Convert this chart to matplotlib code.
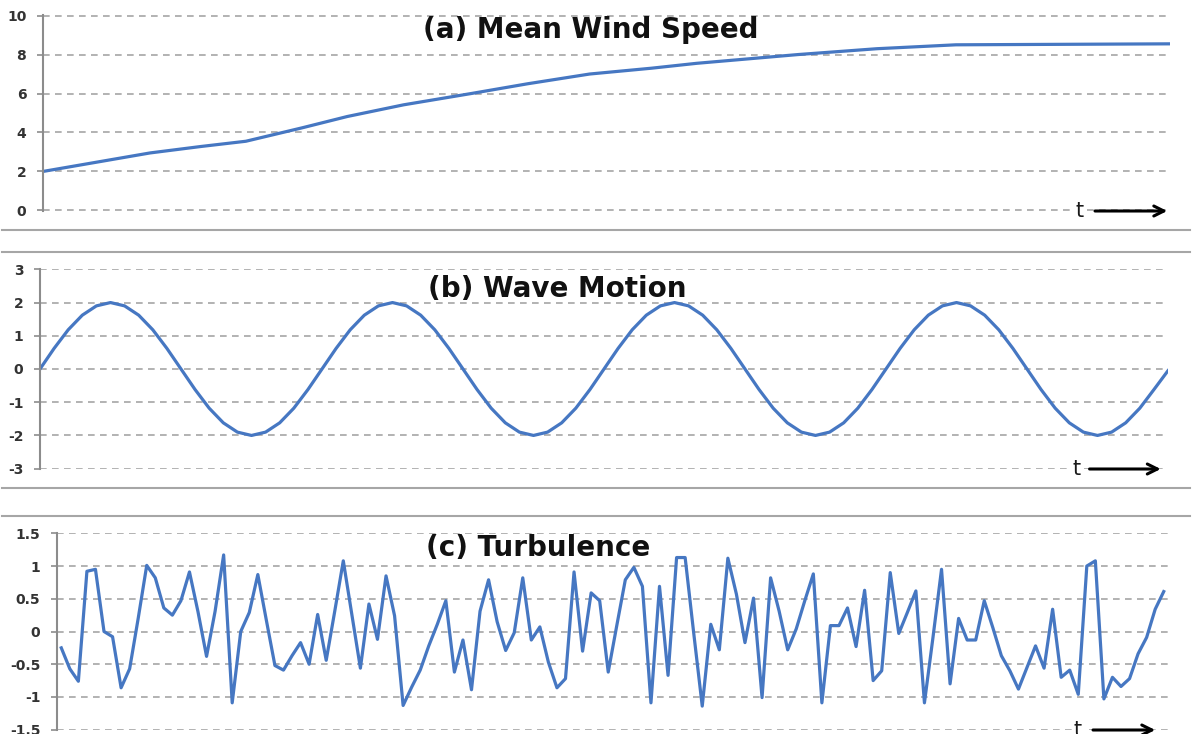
import matplotlib
matplotlib.use("Agg")
import matplotlib.pyplot as plt
from matplotlib.lines import Line2D

# (a) mean wind speed, t runs 0..100 across the panel
wind_t = [0, 5, 9.5, 14, 18, 23, 27, 32, 38, 43, 48.5, 54, 58, 67, 74, 81, 100]
wind_speed = [2.0, 2.5, 2.95, 3.28, 3.55, 4.24, 4.82, 5.42, 6.0, 6.5, 7.0, 7.3,
              7.55, 8.0, 8.3, 8.5, 8.55]

# (b) wave motion, 20 readings per cycle, 4 cycles
wave = [0, 0.62, 1.18, 1.62, 1.9, 2.0, 1.9, 1.62, 1.18, 0.62,
        0, -0.62, -1.18, -1.62, -1.9, -2.0, -1.9, -1.62, -1.18, -0.62,
        0, 0.62, 1.18, 1.62, 1.9, 2.0, 1.9, 1.62, 1.18, 0.62,
        0, -0.62, -1.18, -1.62, -1.9, -2.0, -1.9, -1.62, -1.18, -0.62,
        0, 0.62, 1.18, 1.62, 1.9, 2.0, 1.9, 1.62, 1.18, 0.62,
        0, -0.62, -1.18, -1.62, -1.9, -2.0, -1.9, -1.62, -1.18, -0.62,
        0, 0.62, 1.18, 1.62, 1.9, 2.0, 1.9, 1.62, 1.18, 0.62,
        0, -0.62, -1.18, -1.62, -1.9, -2.0, -1.9, -1.62, -1.18, -0.62,
        -0.05]

# (c) turbulence
turbulence = [-0.25, -0.57, -0.76, 0.92, 0.95, 0.0, -0.08, -0.86, -0.57, 0.2,
              1.01, 0.82, 0.36, 0.25, 0.47, 0.91, 0.3, -0.38, 0.31, 1.17,
              -1.09, 0.0, 0.29, 0.87, 0.17, -0.52,
              -0.59, -0.37, -0.17, -0.5, 0.26, -0.44, 0.31, 1.08, 0.26, -0.56,
              0.42, -0.12, 0.85, 0.24, -1.13, -0.85, -0.59, -0.22, 0.11, 0.47,
              -0.62, -0.13, -0.89, 0.31, 0.79, 0.15,
              -0.29, -0.02, 0.82, -0.13, 0.07, -0.47, -0.86, -0.72, 0.91, -0.3,
              0.59, 0.47, -0.62, 0.09, 0.79, 0.98, 0.69, -1.09, 0.69, -0.67,
              1.13, 1.13, -0.02, -1.14, 0.11, -0.28, 1.12,
              0.57, -0.17, 0.51, -1.01, 0.82, 0.31, -0.28, 0.04, 0.47, 0.88,
              -1.09, 0.09, 0.09, 0.36, -0.23, 0.63, -0.75, -0.6, 0.9, -0.03,
              0.29, 0.62, -1.09, -0.09, 0.95, -0.8,
              0.2, -0.13, -0.13, 0.47, 0.06, -0.37, -0.6, -0.88, -0.55, -0.22,
              -0.56, 0.34, -0.7, -0.59, -0.96, 1.0, 1.08, -1.03, -0.7, -0.84,
              -0.72, -0.34, -0.09, 0.34, 0.61]

titles = ["(a) Mean Wind Speed", "(b) Wave Motion", "(c) Turbulence"]
ticks_a = [0, 2, 4, 6, 8, 10]
ticks_b = [-3, -2, -1, 0, 1, 2, 3]
ticks_c = [-1.5, -1, -0.5, 0, 0.5, 1, 1.5]
labels_c = ["-1.5", "-1", "-0.5", "0", "0.5", "1", "1.5"]

W, H = 1192, 734
LINE = "#4677c2"
GRID = "#a6a6a6"

plt.rcParams["axes.unicode_minus"] = False
fig = plt.figure(figsize=(W / 100, H / 100), dpi=100)


def add_panel(left, top, right, bottom):
    # pixel box -> figure fraction
    return fig.add_axes([left / W, 1 - bottom / H, (right - left) / W, (bottom - top) / H])


def style_axis(ax, ticks, labels):
    for side in ["top", "right", "bottom"]:
        ax.spines[side].set_visible(False)
    ax.spines["left"].set_color("#8c8c8c")
    ax.spines["left"].set_linewidth(1.5)
    ax.set_yticks(ticks)
    ax.set_yticklabels(labels, fontsize=10, fontweight="bold", color="#333333")
    ax.tick_params(axis="y", length=4, width=1.2, color="#8c8c8c", pad=8)
    ax.set_xticks([])
    ax.grid(axis="y", color=GRID, linestyle=(0, (4, 3.2)), linewidth=1.2)
    ax.set_axisbelow(True)
    ax.patch.set_alpha(0)


def time_arrow(ax, t_x, start, end):
    ax.text(t_x, 0, "t", transform=ax.transAxes, fontsize=15, ha="center", va="center",
            color="#1a1a1a", bbox=dict(facecolor="white", edgecolor="none", pad=1),
            clip_on=False)
    ax.annotate("", xy=(end, 0), xytext=(start, 0), xycoords="axes fraction",
                annotation_clip=False,
                arrowprops=dict(arrowstyle="->", lw=2.2, color="black", mutation_scale=18))


# panel a
ax_a = add_panel(43, 15, 1170, 211)
ax_a.plot(wind_t, wind_speed, color=LINE, lw=2.3)
ax_a.set_xlim(0, 100)
ax_a.set_ylim(-0.03, 10.03)
style_axis(ax_a, ticks_a, [str(v) for v in ticks_a])
time_arrow(ax_a, 0.920, 0.931, 1.0)

# panel b
ax_b = add_panel(40, 269, 1168, 469)
ax_b.plot(range(len(wave)), wave, color=LINE, lw=2.3)
ax_b.set_xlim(0, len(wave) - 1)
ax_b.set_ylim(-3.01, 3.01)
style_axis(ax_b, ticks_b, [str(v) for v in ticks_b])
time_arrow(ax_b, 0.919, 0.928, 0.996)

# panel c
ax_c = add_panel(57, 533, 1168, 730)
ax_c.plot(range(len(turbulence)), turbulence, color=LINE, lw=2.3)
ax_c.set_xlim(-0.5, len(turbulence) - 0.5)
ax_c.set_ylim(-1.505, 1.505)
style_axis(ax_c, ticks_c, labels_c)
time_arrow(ax_c, 0.919, 0.930, 0.991)

# panel titles
title_pos = [(591, 30), (557, 289), (538, 548)]
for txt, (x, y) in zip(titles, title_pos):
    fig.text(x / W, 1 - y / H, txt, fontsize=20, fontweight="bold", ha="center",
             va="center", color="#111111")

# chart borders between the stacked panels
for y in [230, 252, 488, 516]:
    fig.add_artist(Line2D([2 / W, 1190 / W], [1 - y / H, 1 - y / H],
                          transform=fig.transFigure, color=GRID, lw=1.5))

fig.savefig("out.png", dpi=100)
